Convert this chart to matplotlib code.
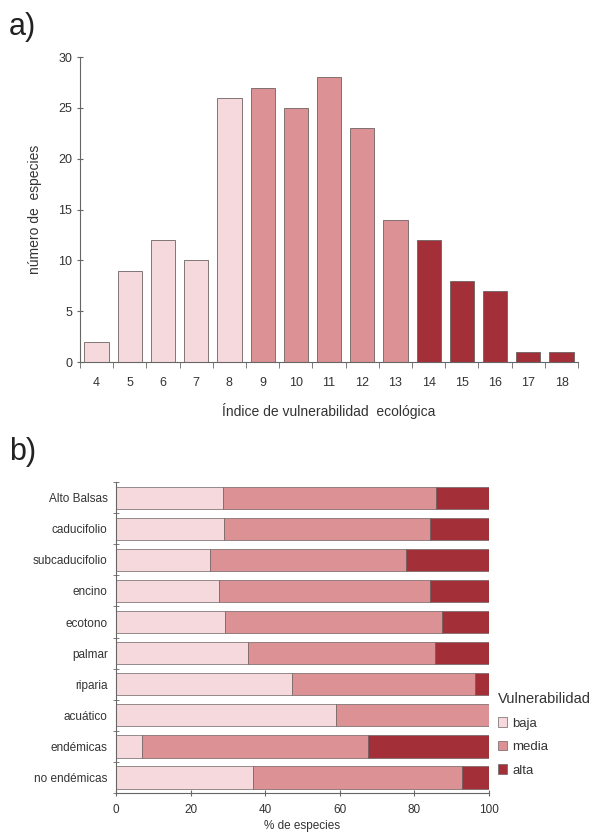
import matplotlib
matplotlib.use("Agg")
import matplotlib.pyplot as plt
from matplotlib.patches import Patch
import numpy as np

plt.rcParams['font.family'] = ['Liberation Sans', 'DejaVu Sans']

# a) numero de especies por indice
indices = [4, 5, 6, 7, 8, 9, 10, 11, 12, 13, 14, 15, 16, 17, 18]
n_especies = [2, 9, 12, 10, 26, 27, 25, 28, 23, 14, 12, 8, 7, 1, 1]
clase = ["baja"] * 5 + ["media"] * 5 + ["alta"] * 5

# b) % de especies por tipo de vegetacion
grupos = ["Alto Balsas", "caducifolio", "subcaducifolio", "encino", "ecotono",
          "palmar", "riparia", "acuático", "endémicas", "no endémicas"]
pct_baja = [28.7, 29.0, 25.1, 27.5, 29.2, 35.5, 47.3, 58.9, 7.0, 36.6]
pct_media = [57.1, 55.1, 52.6, 56.6, 58.1, 50.1, 48.9, 41.1, 60.5, 56.2]
pct_alta = [14.2, 15.9, 22.3, 15.9, 12.7, 14.4, 3.8, 0.0, 32.5, 7.2]

colores = {"baja": "#f6d9dc", "media": "#dc9195", "alta": "#a32f38"}
edge = "#6e6262"
txt = "#333333"
spine_c = "#666666"

fig = plt.figure(figsize=(5.93, 8.4), dpi=100)

### Panel a
ax = fig.add_axes([0.1349, 0.569, 0.840, 0.363])
x = np.arange(len(indices))
ax.bar(x, n_especies, width=0.73, color=[colores[c] for c in clase],
       edgecolor=edge, linewidth=0.6)
ax.set_xlim(-0.5, len(indices) - 0.5)
ax.set_ylim(0, 30)
ax.set_yticks(range(0, 31, 5))
ax.set_xticks(x)
ax.set_xticklabels([str(i) for i in indices])
ax.set_xticks(np.arange(-0.5, len(indices)), minor=True)
ax.tick_params(axis='x', which='major', length=0, labelsize=9, colors=txt, pad=11)
ax.tick_params(axis='x', which='minor', length=4, direction='out', color=spine_c)
ax.tick_params(axis='y', length=4, direction='inout', labelsize=9, colors=txt, color=spine_c)
for s in ["top", "right"]:
    ax.spines[s].set_visible(False)
for s in ["left", "bottom"]:
    ax.spines[s].set_color(spine_c)
    ax.spines[s].set_linewidth(0.8)
ax.set_ylabel("número de  especies", fontsize=10, color=txt, labelpad=12)
ax.set_xlabel("Índice de vulnerabilidad  ecológica", fontsize=10, color=txt, labelpad=10)

fig.text(0.015, 0.968, "a)", fontsize=22, color="#222222", va="center")
fig.text(0.015, 0.462, "b)", fontsize=22, color="#222222", va="center")

### Panel b
bx = fig.add_axes([0.1956, 0.056, 0.629, 0.370])
y = np.arange(len(grupos))
h = 0.72
left = np.zeros(len(grupos))
for nombre, vals in [("baja", pct_baja), ("media", pct_media), ("alta", pct_alta)]:
    vals = np.array(vals)
    bx.barh(y, vals, height=h, left=left, color=colores[nombre],
            edgecolor=edge, linewidth=0.5)
    left += vals
bx.set_ylim(len(grupos) - 0.5, -0.5)
bx.set_xlim(0, 100)
bx.set_yticks(y)
bx.set_yticklabels(grupos)
bx.set_yticks(np.arange(-0.5, len(grupos)), minor=True)
bx.tick_params(axis='y', which='major', length=0, labelsize=8.5, colors=txt, pad=6)
bx.tick_params(axis='y', which='minor', length=4, direction='inout', color=spine_c)
bx.set_xticks(range(0, 101, 20))
bx.tick_params(axis='x', length=4, direction='inout', labelsize=8.5, colors=txt,
               color=spine_c, pad=6)
for s in ["top", "right"]:
    bx.spines[s].set_visible(False)
for s in ["left", "bottom"]:
    bx.spines[s].set_color(spine_c)
    bx.spines[s].set_linewidth(0.8)
bx.set_xlabel("% de especies", fontsize=8.5, color=txt, labelpad=3)

handles = [Patch(facecolor=colores[k], edgecolor=edge, linewidth=0.5, label=k)
           for k in ["baja", "media", "alta"]]
leg = fig.legend(handles=handles, title="Vulnerabilidad", loc="upper left",
                 bbox_to_anchor=(0.840, 0.176), frameon=False, fontsize=9.5,
                 title_fontsize=10.5, handlelength=0.7, handleheight=0.7,
                 handletextpad=0.4, labelspacing=0.85, alignment="left",
                 borderaxespad=0, borderpad=0)
for t in leg.get_texts():
    t.set_color(txt)
leg.get_title().set_color(txt)

fig.savefig("out.png", dpi=100)
